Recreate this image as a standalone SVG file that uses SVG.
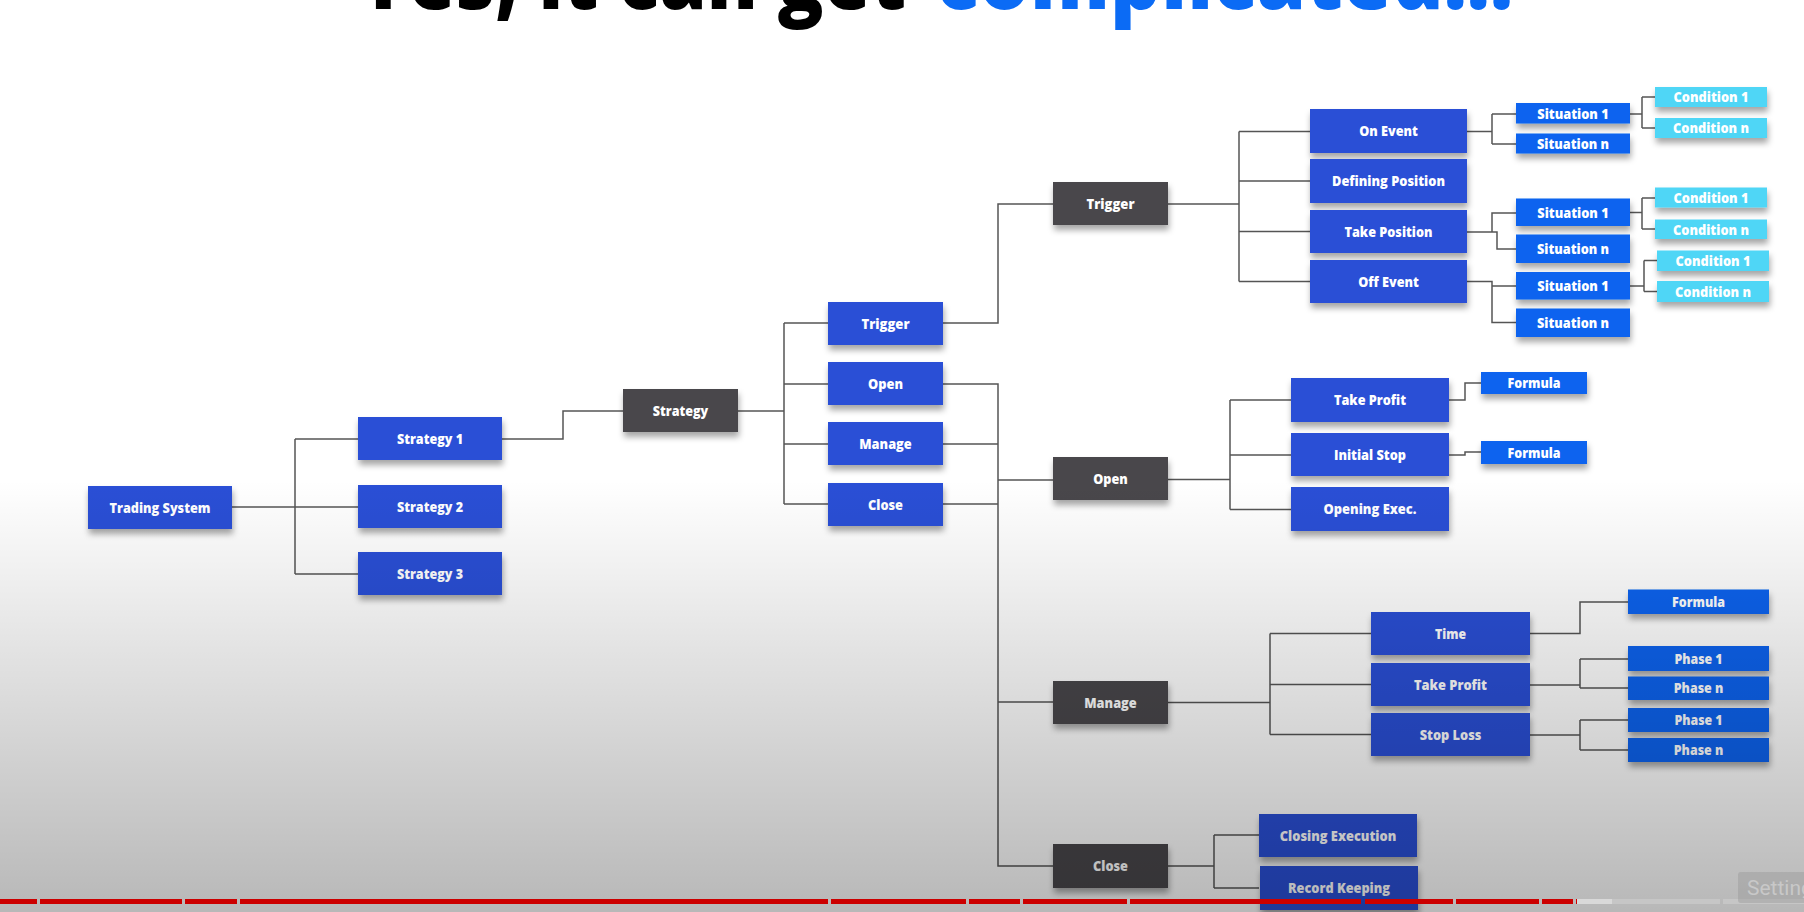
<svg xmlns="http://www.w3.org/2000/svg" width="1804" height="912" viewBox="0 0 1804 912">
<defs>
<style>
.b{fill:#2a4fd6}
.d{fill:#48474c}
.s{fill:#0b63ef}
.c{fill:#4fd6f6}
.n rect{filter:url(#sh)}
.t{font-family:"Open Sans","Liberation Sans",sans-serif;font-weight:800;font-size:14.5px;fill:#ffffff;text-anchor:middle}
.conn path{fill:none;stroke:#555555;stroke-width:1.5}
.title{font-family:"Open Sans","Liberation Sans",sans-serif;font-weight:800;font-size:86px}
</style>
<filter id="sh" x="-20%" y="-30%" width="140%" height="190%">
<feDropShadow dx="1" dy="5" stdDeviation="3" flood-color="#000" flood-opacity="0.35"/>
</filter>
<linearGradient id="ov" gradientUnits="userSpaceOnUse" x1="0" y1="480" x2="0" y2="912">
<stop offset="0" stop-color="#000" stop-opacity="0"/>
<stop offset="1" stop-color="#000" stop-opacity="0.28"/>
</linearGradient>
</defs>
<rect x="0" y="0" width="1804" height="912" fill="#ffffff"/>

<g id="title">
<text class="title" x="358" y="9" textLength="548" lengthAdjust="spacingAndGlyphs" fill="#000">Yes, it can get</text>
<text class="title" x="936" y="9" textLength="577" lengthAdjust="spacingAndGlyphs" fill="#0b6bf5">complicated...</text>
</g>

<g id="connectors" class="conn">
<path d="M232,507 H358 M295,439 V574 M295,439 H358 M295,574 H358"/>
<path d="M502,439 H563 V411 H623"/>
<path d="M738,411 H784 M784,323 V504 M784,323 H828 M784,384 H828 M784,444 H828 M784,504 H828"/>
<path d="M943,323 H998 V204 H1053"/>
<path d="M943,384 H998 V866 H1053 M943,444 H998 M943,504 H998 M998,480 H1053 M998,702 H1053"/>
<path d="M1168,204 H1239 M1239,131.5 V281.5 M1239,131.5 H1310 M1239,181 H1310 M1239,231.5 H1310 M1239,281.5 H1310"/>
<path d="M1467,131.5 H1492 M1492,114 V144 M1492,114 H1516 M1492,144 H1516"/>
<path d="M1467,232 H1492 V213 H1516 M1492,232 H1497 V249 H1516"/>
<path d="M1467,281.5 H1492 V322.5 H1516 M1492,286 H1516"/>
<path d="M1630,114 H1642 M1642,97 V128 M1642,97 H1655 M1642,128 H1655"/>
<path d="M1630,212.5 H1642 M1642,198 V229 M1642,198 H1655 M1642,229 H1655"/>
<path d="M1630,286 H1644 M1644,260.5 V291.5 M1644,260.5 H1657 M1644,291.5 H1657"/>
<path d="M1168,479.5 H1230 M1230,400 V509.5 M1230,400 H1291 M1230,455 H1291 M1230,509.5 H1291"/>
<path d="M1449,400 H1465 V383 H1481"/>
<path d="M1449,455 H1465 V452 H1481"/>
<path d="M1168,702.5 H1270 M1270,633.5 V734.5 M1270,633.5 H1371 M1270,684.5 H1371 M1270,734.5 H1371"/>
<path d="M1530,633.5 H1580 V602 H1628"/>
<path d="M1530,685 H1580 M1580,659 V688 M1580,659 H1628 M1580,688 H1628"/>
<path d="M1530,735 H1580 M1580,720 V750 M1580,720 H1628 M1580,750 H1628"/>
<path d="M1168,866 H1214 M1214,835 V888 M1214,835 H1259 M1214,888 H1259"/>
</g>

<g id="n-trading-system" class="n"><rect class="b" x="88" y="486" width="144" height="43"/><text class="t" x="160" y="512.5" textLength="101" lengthAdjust="spacingAndGlyphs">Trading System</text></g>
<g id="n-strategy-1" class="n"><rect class="b" x="358" y="417" width="144" height="43"/><text class="t" x="430" y="443.5" textLength="66" lengthAdjust="spacingAndGlyphs">Strategy 1</text></g>
<g id="n-strategy-2" class="n"><rect class="b" x="358" y="485" width="144" height="43"/><text class="t" x="430" y="511.5" textLength="66" lengthAdjust="spacingAndGlyphs">Strategy 2</text></g>
<g id="n-strategy-3" class="n"><rect class="b" x="358" y="552" width="144" height="43"/><text class="t" x="430" y="578.5" textLength="66" lengthAdjust="spacingAndGlyphs">Strategy 3</text></g>
<g id="n-strategy" class="n"><rect class="d" x="623" y="389" width="115" height="43"/><text class="t" x="680.5" y="415.5" textLength="55.5" lengthAdjust="spacingAndGlyphs">Strategy</text></g>

<g id="n-trigger-1" class="n"><rect class="b" x="828" y="302" width="115" height="43"/><text class="t" x="885.5" y="328.5" textLength="48" lengthAdjust="spacingAndGlyphs">Trigger</text></g>
<g id="n-open-1" class="n"><rect class="b" x="828" y="362" width="115" height="43"/><text class="t" x="885.5" y="388.5" textLength="35" lengthAdjust="spacingAndGlyphs">Open</text></g>
<g id="n-manage-1" class="n"><rect class="b" x="828" y="422" width="115" height="43"/><text class="t" x="885.5" y="448.5" textLength="52.5" lengthAdjust="spacingAndGlyphs">Manage</text></g>
<g id="n-close-1" class="n"><rect class="b" x="828" y="483" width="115" height="43"/><text class="t" x="885.5" y="509.5" textLength="35" lengthAdjust="spacingAndGlyphs">Close</text></g>

<g id="n-trigger-2" class="n"><rect class="d" x="1053" y="182" width="115" height="43"/><text class="t" x="1110.5" y="208.5" textLength="48" lengthAdjust="spacingAndGlyphs">Trigger</text></g>
<g id="n-open-2" class="n"><rect class="d" x="1053" y="457" width="115" height="43"/><text class="t" x="1110.5" y="483.5" textLength="34.5" lengthAdjust="spacingAndGlyphs">Open</text></g>
<g id="n-manage-2" class="n"><rect class="d" x="1053" y="681" width="115" height="43"/><text class="t" x="1110.5" y="707.5" textLength="52.5" lengthAdjust="spacingAndGlyphs">Manage</text></g>
<g id="n-close-2" class="n"><rect class="d" x="1053" y="844" width="115" height="44"/><text class="t" x="1110.5" y="871" textLength="35" lengthAdjust="spacingAndGlyphs">Close</text></g>

<g id="n-on-event" class="n"><rect class="b" x="1310" y="109" width="157" height="44"/><text class="t" x="1388.5" y="136" textLength="58.7" lengthAdjust="spacingAndGlyphs">On Event</text></g>
<g id="n-defining-position" class="n"><rect class="b" x="1310" y="159" width="157" height="44"/><text class="t" x="1388.5" y="186" textLength="113" lengthAdjust="spacingAndGlyphs">Defining Position</text></g>
<g id="n-take-position" class="n"><rect class="b" x="1310" y="210" width="157" height="43"/><text class="t" x="1388.5" y="236.5" textLength="88" lengthAdjust="spacingAndGlyphs">Take Position</text></g>
<g id="n-off-event" class="n"><rect class="b" x="1310" y="260" width="157" height="43"/><text class="t" x="1388.5" y="286.5" textLength="60.7" lengthAdjust="spacingAndGlyphs">Off Event</text></g>

<g id="n-on-situation-1" class="n"><rect class="s" x="1516" y="103" width="114" height="20.5"/><text class="t" x="1573" y="118.5" textLength="71.4" lengthAdjust="spacingAndGlyphs">Situation 1</text></g>
<g id="n-on-situation-n" class="n"><rect class="s" x="1516" y="133.5" width="114" height="20"/><text class="t" x="1573" y="148.5" textLength="72" lengthAdjust="spacingAndGlyphs">Situation n</text></g>
<g id="n-tp-situation-1" class="n"><rect class="s" x="1516" y="198.5" width="114" height="27.5"/><text class="t" x="1573" y="217.5" textLength="71.4" lengthAdjust="spacingAndGlyphs">Situation 1</text></g>
<g id="n-tp-situation-n" class="n"><rect class="s" x="1516" y="234.5" width="114" height="28.5"/><text class="t" x="1573" y="254" textLength="72" lengthAdjust="spacingAndGlyphs">Situation n</text></g>
<g id="n-off-situation-1" class="n"><rect class="s" x="1516" y="272" width="114" height="27.5"/><text class="t" x="1573" y="291" textLength="71.4" lengthAdjust="spacingAndGlyphs">Situation 1</text></g>
<g id="n-off-situation-n" class="n"><rect class="s" x="1516" y="308.5" width="114" height="28.5"/><text class="t" x="1573" y="328" textLength="72" lengthAdjust="spacingAndGlyphs">Situation n</text></g>

<g id="n-cond-a1" class="n"><rect class="c" x="1655" y="87" width="112" height="20"/><text class="t" x="1711" y="102" textLength="75" lengthAdjust="spacingAndGlyphs">Condition 1</text></g>
<g id="n-cond-an" class="n"><rect class="c" x="1655" y="118" width="112" height="20"/><text class="t" x="1711" y="133" textLength="76" lengthAdjust="spacingAndGlyphs">Condition n</text></g>
<g id="n-cond-b1" class="n"><rect class="c" x="1655" y="187.5" width="112" height="20"/><text class="t" x="1711" y="202.5" textLength="75" lengthAdjust="spacingAndGlyphs">Condition 1</text></g>
<g id="n-cond-bn" class="n"><rect class="c" x="1655" y="219.5" width="112" height="19.5"/><text class="t" x="1711" y="234.5" textLength="76" lengthAdjust="spacingAndGlyphs">Condition n</text></g>
<g id="n-cond-c1" class="n"><rect class="c" x="1657" y="250.5" width="112" height="20.5"/><text class="t" x="1713" y="265.5" textLength="75" lengthAdjust="spacingAndGlyphs">Condition 1</text></g>
<g id="n-cond-cn" class="n"><rect class="c" x="1657" y="281" width="112" height="21"/><text class="t" x="1713" y="296.5" textLength="76" lengthAdjust="spacingAndGlyphs">Condition n</text></g>

<g id="n-open-take-profit" class="n"><rect class="b" x="1291" y="378" width="158" height="44"/><text class="t" x="1370" y="405" textLength="72" lengthAdjust="spacingAndGlyphs">Take Profit</text></g>
<g id="n-initial-stop" class="n"><rect class="b" x="1291" y="433" width="158" height="43"/><text class="t" x="1370" y="459.5" textLength="72" lengthAdjust="spacingAndGlyphs">Initial Stop</text></g>
<g id="n-opening-exec" class="n"><rect class="b" x="1291" y="487" width="158" height="44"/><text class="t" x="1370" y="514" textLength="93" lengthAdjust="spacingAndGlyphs">Opening Exec.</text></g>
<g id="n-formula-tp" class="n"><rect class="s" x="1481" y="372" width="106" height="22"/><text class="t" x="1534" y="388" textLength="53" lengthAdjust="spacingAndGlyphs">Formula</text></g>
<g id="n-formula-is" class="n"><rect class="s" x="1481" y="441" width="106" height="23"/><text class="t" x="1534" y="457.5" textLength="53" lengthAdjust="spacingAndGlyphs">Formula</text></g>

<g id="n-time" class="n"><rect class="b" x="1371" y="612" width="159" height="43"/><text class="t" x="1450.5" y="638.5" textLength="31" lengthAdjust="spacingAndGlyphs">Time</text></g>
<g id="n-manage-take-profit" class="n"><rect class="b" x="1371" y="663" width="159" height="43"/><text class="t" x="1450.5" y="689.5" textLength="73" lengthAdjust="spacingAndGlyphs">Take Profit</text></g>
<g id="n-stop-loss" class="n"><rect class="b" x="1371" y="713" width="159" height="43"/><text class="t" x="1450.5" y="739.5" textLength="61.7" lengthAdjust="spacingAndGlyphs">Stop Loss</text></g>
<g id="n-formula-time" class="n"><rect class="s" x="1628" y="589.5" width="141" height="24.5"/><text class="t" x="1698.5" y="607" textLength="53" lengthAdjust="spacingAndGlyphs">Formula</text></g>
<g id="n-tp-phase-1" class="n"><rect class="s" x="1628" y="646" width="141" height="25"/><text class="t" x="1698.5" y="663.5" textLength="48" lengthAdjust="spacingAndGlyphs">Phase 1</text></g>
<g id="n-tp-phase-n" class="n"><rect class="s" x="1628" y="676.5" width="141" height="23.5"/><text class="t" x="1698.5" y="693" textLength="49.5" lengthAdjust="spacingAndGlyphs">Phase n</text></g>
<g id="n-sl-phase-1" class="n"><rect class="s" x="1628" y="708" width="141" height="24"/><text class="t" x="1698.5" y="725" textLength="48" lengthAdjust="spacingAndGlyphs">Phase 1</text></g>
<g id="n-sl-phase-n" class="n"><rect class="s" x="1628" y="738" width="141" height="24"/><text class="t" x="1698.5" y="755" textLength="49.5" lengthAdjust="spacingAndGlyphs">Phase n</text></g>

<g id="n-closing-execution" class="n"><rect class="b" x="1259" y="814" width="158" height="43"/><text class="t" x="1338" y="840.5" textLength="116.5" lengthAdjust="spacingAndGlyphs">Closing Execution</text></g>
<g id="n-record-keeping" class="n"><rect class="b" x="1260" y="866" width="158" height="44"/><text class="t" x="1339" y="893" textLength="102" lengthAdjust="spacingAndGlyphs">Record Keeping</text></g>

<rect id="shade" x="0" y="0" width="1804" height="912" fill="url(#ov)"/>

<g id="player-bar">
<rect x="0" y="899" width="37" height="5" fill="#cc0000"/>
<rect x="40" y="899" width="142" height="5" fill="#cc0000"/>
<rect x="185" y="899" width="52" height="5" fill="#cc0000"/>
<rect x="240" y="899" width="588" height="5" fill="#cc0000"/>
<rect x="831" y="899" width="135" height="5" fill="#cc0000"/>
<rect x="969" y="899" width="51" height="5" fill="#cc0000"/>
<rect x="1023" y="899" width="104" height="5" fill="#cc0000"/>
<rect x="1130" y="899" width="231" height="5" fill="#cc0000"/>
<rect x="1365" y="899" width="88" height="5" fill="#cc0000"/>
<rect x="1456" y="899" width="83" height="5" fill="#cc0000"/>
<rect x="1542" y="899" width="31" height="5" fill="#cc0000"/>
<rect x="1576" y="899" width="1" height="5" fill="#cc0000"/>
<rect x="1577" y="899" width="35" height="5" fill="#d9d9d9"/>
<rect x="1612" y="899" width="108" height="5" fill="#c6c6c6"/>
<rect x="1723" y="899" width="81" height="5" fill="#c6c6c6"/>
<rect x="1738" y="872" width="80" height="31" rx="3" fill="#9a9a9a" fill-opacity="0.45"/>
<text x="1747" y="895" font-family="Roboto,'Liberation Sans',sans-serif" font-size="21" fill="#c8c8c8">Settings</text>
</g>
</svg>
